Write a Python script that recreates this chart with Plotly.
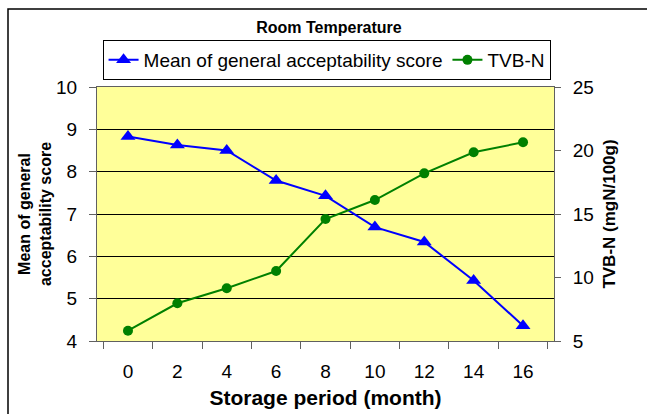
import plotly.graph_objects as go

months = ["0", "2", "4", "6", "8", "10", "12", "14", "16"]
acceptability = [8.83, 8.63, 8.50, 7.79, 7.43, 6.69, 6.34, 5.43, 4.36]
tvbn = [5.81, 7.97, 9.15, 10.51, 14.6, 16.1, 18.2, 19.86, 20.65]

FONT = "Liberation Sans, Arial, sans-serif"
W, H = 647, 414
L, R, T, B = 97, 93, 87, 73
pw, ph = W - L - R, H - T - B

def px_x(x):
    return (x - L) / pw

def px_y(y):
    return (H - B - y) / ph

fig = go.Figure()
fig.add_trace(go.Scatter(
    x=months, y=acceptability, name="Mean of general acceptability score",
    mode="lines+markers", line=dict(color="#0000FF", width=2),
    marker=dict(symbol="triangle-up", size=13, color="#0000FF"),
    yaxis="y"))
fig.add_trace(go.Scatter(
    x=months, y=tvbn, name="TVB-N",
    mode="lines+markers", line=dict(color="#008000", width=2),
    marker=dict(symbol="circle", size=10, color="#008000"),
    yaxis="y2"))

fig.update_layout(
    width=W, height=H,
    margin=dict(l=L, r=R, t=T, b=B, pad=0, autoexpand=False),
    paper_bgcolor="white", plot_bgcolor="#FFFF99",
    font=dict(family=FONT, size=19, color="black"),
    title=dict(text="<b>Room Temperature</b>", x=329 / W, xanchor="center",
               y=1 - 27 / H, yanchor="middle", font=dict(size=16)),
    showlegend=True,
    legend=dict(orientation="h", x=0.5 * (96 + 554) / W, xref="paper", xanchor="center",
                y=px_y(40), yanchor="top", bordercolor="black", borderwidth=1,
                bgcolor="white", font=dict(size=19), itemwidth=30,
                tracegroupgap=0),
    xaxis=dict(type="category", tickson="boundaries", ticks="outside", ticklen=7,
               tickcolor="#606060", showline=True, linecolor="#606060", mirror=True,
               showgrid=False, tickfont=dict(size=19), ticklabelstandoff=13,
               automargin=False,
               title=dict(text="<b>Storage period (month)</b>", font=dict(size=21), standoff=9)),
    yaxis=dict(range=[4, 10], dtick=1, ticks="outside", ticklen=7, tickcolor="#606060",
               showline=True, linecolor="#606060", mirror=True,
               showgrid=True, gridcolor="black", gridwidth=1, zeroline=False,
               tickfont=dict(size=19), ticklabelstandoff=8, automargin=False,
               title=dict(text="<b>Mean of general<br>acceptability score</b>",
                          font=dict(size=16), standoff=0)),
    yaxis2=dict(range=[5, 25], dtick=5, overlaying="y", side="right", ticks="outside",
                ticklen=6, tickcolor="#606060", showline=True, linecolor="#606060",
                showgrid=False, zeroline=False, tickfont=dict(size=19), ticklabelstandoff=8,
                automargin=False,
                title=dict(text="<b>TVB-N (mgN/100g)</b>", font=dict(size=17), standoff=10)),
)

fig.add_shape(type="rect", xref="paper", yref="paper",
              x0=px_x(8), x1=px_x(700), y0=px_y(9), y1=px_y(460),
              line=dict(color="black", width=1.5), fillcolor="rgba(0,0,0,0)", layer="below")

fig.write_html("out.html")
